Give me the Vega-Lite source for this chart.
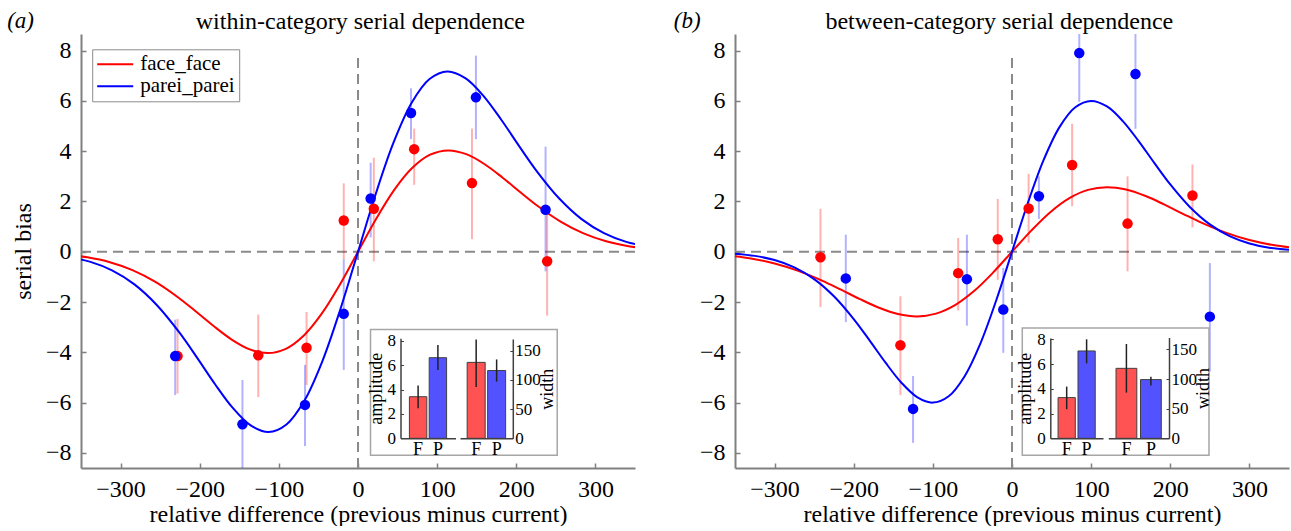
{
  "$schema": "https://vega.github.io/schema/vega-lite/v6.json",
  "padding": {"left": 7, "top": 9, "right": 0, "bottom": 0},
  "spacing": 37,
  "config": {
    "font": "Liberation Serif",
    "view": {"stroke": null},
    "text": {"font": "Liberation Serif"},
    "legend": {"labelFont": "Liberation Serif"},
    "axis": {"grid": false, "labelFont": "Liberation Serif", "titleFont": "Liberation Serif", "labelColor": "black", "titleColor": "black", "titleFontWeight": "normal", "labelFlush": false, "labelOverlap": false}
  },
  "resolve": {"scale": {"x": "independent", "y": "independent", "color": "independent"}, "legend": {"color": "independent"}},
  "datasets": {
    "pts_a": [
      {"cond": "face_face", "x": -228, "y": -4.15, "lo": -5.64, "hi": -2.67},
      {"cond": "face_face", "x": -126, "y": -4.12, "lo": -5.78, "hi": -2.5},
      {"cond": "face_face", "x": -65, "y": -3.82, "lo": -5.3, "hi": -2.4},
      {"cond": "face_face", "x": -18, "y": 1.24, "lo": -0.3, "hi": 2.72},
      {"cond": "face_face", "x": 20, "y": 1.71, "lo": -0.38, "hi": 3.74},
      {"cond": "face_face", "x": 71, "y": 4.08, "lo": 2.66, "hi": 4.9},
      {"cond": "face_face", "x": 144, "y": 2.73, "lo": 0.5, "hi": 4.9},
      {"cond": "face_face", "x": 239, "y": -0.38, "lo": -2.54, "hi": 1.7},
      {"cond": "parei_parei", "x": -231, "y": -4.15, "lo": -5.7, "hi": -2.7},
      {"cond": "parei_parei", "x": -146, "y": -6.86, "lo": -8.7, "hi": -5.1},
      {"cond": "parei_parei", "x": -67, "y": -6.09, "lo": -7.73, "hi": -4.5},
      {"cond": "parei_parei", "x": -18, "y": -2.47, "lo": -4.7, "hi": -0.3},
      {"cond": "parei_parei", "x": 16, "y": 2.12, "lo": 0.57, "hi": 3.54},
      {"cond": "parei_parei", "x": 67, "y": 5.52, "lo": 4.48, "hi": 6.5},
      {"cond": "parei_parei", "x": 149, "y": 6.14, "lo": 4.48, "hi": 7.8},
      {"cond": "parei_parei", "x": 237, "y": 1.67, "lo": -0.78, "hi": 4.18}
    ],
    "pts_b": [
      {"cond": "face_face", "x": -242, "y": -0.22, "lo": -2.2, "hi": 1.71},
      {"cond": "face_face", "x": -141, "y": -3.72, "lo": -5.7, "hi": -1.77},
      {"cond": "face_face", "x": -68, "y": -0.85, "lo": -2.33, "hi": 0.55},
      {"cond": "face_face", "x": -18, "y": 0.5, "lo": -1.12, "hi": 2.1},
      {"cond": "face_face", "x": 21, "y": 1.72, "lo": 0.36, "hi": 3.1},
      {"cond": "face_face", "x": 76, "y": 3.45, "lo": 1.81, "hi": 5.09},
      {"cond": "face_face", "x": 146, "y": 1.12, "lo": -0.78, "hi": 3.0},
      {"cond": "face_face", "x": 228, "y": 2.24, "lo": 0.97, "hi": 3.47},
      {"cond": "parei_parei", "x": -210, "y": -1.06, "lo": -2.8, "hi": 0.68},
      {"cond": "parei_parei", "x": -125, "y": -6.25, "lo": -7.6, "hi": -4.94},
      {"cond": "parei_parei", "x": -57, "y": -1.09, "lo": -2.94, "hi": 0.68},
      {"cond": "parei_parei", "x": -11, "y": -2.3, "lo": -4.02, "hi": -0.65},
      {"cond": "parei_parei", "x": 34, "y": 2.21, "lo": 1.3, "hi": 3.0},
      {"cond": "parei_parei", "x": 85, "y": 7.9, "lo": 5.96, "hi": 9.2},
      {"cond": "parei_parei", "x": 156, "y": 7.07, "lo": 4.89, "hi": 9.2},
      {"cond": "parei_parei", "x": 250, "y": -2.58, "lo": -4.76, "hi": -0.45}
    ],
    "fit_a": [
      {"cond": "face_face", "x": -370.5, "y": -0.1098}, {"cond": "face_face", "x": -342, "y": -0.2214}, {"cond": "face_face", "x": -313.5, "y": -0.4165}, {"cond": "face_face", "x": -285, "y": -0.7298}, {"cond": "face_face", "x": -256.5, "y": -1.1894}, {"cond": "face_face", "x": -228, "y": -1.7984}, {"cond": "face_face", "x": -205.2, "y": -2.3668}, {"cond": "face_face", "x": -182.4, "y": -2.9558}, {"cond": "face_face", "x": -159.6, "y": -3.4911}, {"cond": "face_face", "x": -136.8, "y": -3.881}, {"cond": "face_face", "x": -114, "y": -4.03}, {"cond": "face_face", "x": -91.2, "y": -3.8598}, {"cond": "face_face", "x": -68.4, "y": -3.3299}, {"cond": "face_face", "x": -45.6, "y": -2.4534}, {"cond": "face_face", "x": -22.8, "y": -1.3025}, {"cond": "face_face", "x": 0, "y": 0},
      {"cond": "face_face", "x": 22.8, "y": 1.3025}, {"cond": "face_face", "x": 45.6, "y": 2.4534}, {"cond": "face_face", "x": 68.4, "y": 3.3299}, {"cond": "face_face", "x": 91.2, "y": 3.8598}, {"cond": "face_face", "x": 114, "y": 4.03}, {"cond": "face_face", "x": 136.8, "y": 3.881}, {"cond": "face_face", "x": 159.6, "y": 3.4911}, {"cond": "face_face", "x": 182.4, "y": 2.9558}, {"cond": "face_face", "x": 205.2, "y": 2.3668}, {"cond": "face_face", "x": 228, "y": 1.7984}, {"cond": "face_face", "x": 256.5, "y": 1.1894}, {"cond": "face_face", "x": 285, "y": 0.7298}, {"cond": "face_face", "x": 313.5, "y": 0.4165}, {"cond": "face_face", "x": 342, "y": 0.2214}, {"cond": "face_face", "x": 370.5, "y": 0.1098},
      {"cond": "parei_parei", "x": -367.3, "y": -0.1954}, {"cond": "parei_parei", "x": -339, "y": -0.394}, {"cond": "parei_parei", "x": -310.8, "y": -0.741}, {"cond": "parei_parei", "x": -282.5, "y": -1.2985}, {"cond": "parei_parei", "x": -254.3, "y": -2.1161}, {"cond": "parei_parei", "x": -226, "y": -3.1997}, {"cond": "parei_parei", "x": -203.4, "y": -4.2109}, {"cond": "parei_parei", "x": -180.8, "y": -5.2588}, {"cond": "parei_parei", "x": -158.2, "y": -6.2113}, {"cond": "parei_parei", "x": -135.6, "y": -6.9049}, {"cond": "parei_parei", "x": -113, "y": -7.17}, {"cond": "parei_parei", "x": -90.4, "y": -6.8672}, {"cond": "parei_parei", "x": -67.8, "y": -5.9244}, {"cond": "parei_parei", "x": -45.2, "y": -4.365}, {"cond": "parei_parei", "x": -22.6, "y": -2.3174}, {"cond": "parei_parei", "x": 0, "y": 0},
      {"cond": "parei_parei", "x": 22.6, "y": 2.3174}, {"cond": "parei_parei", "x": 45.2, "y": 4.365}, {"cond": "parei_parei", "x": 67.8, "y": 5.9244}, {"cond": "parei_parei", "x": 90.4, "y": 6.8672}, {"cond": "parei_parei", "x": 113, "y": 7.17}, {"cond": "parei_parei", "x": 135.6, "y": 6.9049}, {"cond": "parei_parei", "x": 158.2, "y": 6.2113}, {"cond": "parei_parei", "x": 180.8, "y": 5.2588}, {"cond": "parei_parei", "x": 203.4, "y": 4.2109}, {"cond": "parei_parei", "x": 226, "y": 3.1997}, {"cond": "parei_parei", "x": 254.3, "y": 2.1161}, {"cond": "parei_parei", "x": 282.5, "y": 1.2985}, {"cond": "parei_parei", "x": 310.8, "y": 0.741}, {"cond": "parei_parei", "x": 339, "y": 0.394}, {"cond": "parei_parei", "x": 367.3, "y": 0.1954}
    ],
    "fit_b": [
      {"cond": "face_face", "x": -360, "y": -0.1412}, {"cond": "face_face", "x": -330, "y": -0.2656}, {"cond": "face_face", "x": -300, "y": -0.4654}, {"cond": "face_face", "x": -270, "y": -0.7585}, {"cond": "face_face", "x": -240, "y": -1.1469}, {"cond": "face_face", "x": -216, "y": -1.5094}, {"cond": "face_face", "x": -192, "y": -1.885}, {"cond": "face_face", "x": -168, "y": -2.2264}, {"cond": "face_face", "x": -144, "y": -2.475}, {"cond": "face_face", "x": -120, "y": -2.57}, {"cond": "face_face", "x": -96, "y": -2.4615}, {"cond": "face_face", "x": -72, "y": -2.1235}, {"cond": "face_face", "x": -48, "y": -1.5646}, {"cond": "face_face", "x": -24, "y": -0.8306}, {"cond": "face_face", "x": 0, "y": 0},
      {"cond": "face_face", "x": 24, "y": 0.8306}, {"cond": "face_face", "x": 48, "y": 1.5646}, {"cond": "face_face", "x": 72, "y": 2.1235}, {"cond": "face_face", "x": 96, "y": 2.4615}, {"cond": "face_face", "x": 120, "y": 2.57}, {"cond": "face_face", "x": 144, "y": 2.475}, {"cond": "face_face", "x": 168, "y": 2.2264}, {"cond": "face_face", "x": 192, "y": 1.885}, {"cond": "face_face", "x": 216, "y": 1.5094}, {"cond": "face_face", "x": 240, "y": 1.1469}, {"cond": "face_face", "x": 270, "y": 0.7585}, {"cond": "face_face", "x": 300, "y": 0.4654}, {"cond": "face_face", "x": 330, "y": 0.2656}, {"cond": "face_face", "x": 360, "y": 0.1412},
      {"cond": "parei_parei", "x": -350, "y": -0.0757}, {"cond": "parei_parei", "x": -325, "y": -0.1635}, {"cond": "parei_parei", "x": -300, "y": -0.3297}, {"cond": "parei_parei", "x": -275, "y": -0.6201}, {"cond": "parei_parei", "x": -250, "y": -1.0866}, {"cond": "parei_parei", "x": -225, "y": -1.7708}, {"cond": "parei_parei", "x": -200, "y": -2.6776}, {"cond": "parei_parei", "x": -180, "y": -3.5238}, {"cond": "parei_parei", "x": -160, "y": -4.4007}, {"cond": "parei_parei", "x": -140, "y": -5.1977}, {"cond": "parei_parei", "x": -120, "y": -5.7781}, {"cond": "parei_parei", "x": -100, "y": -6.0}, {"cond": "parei_parei", "x": -80, "y": -5.7466}, {"cond": "parei_parei", "x": -60, "y": -4.9577}, {"cond": "parei_parei", "x": -40, "y": -3.6527}, {"cond": "parei_parei", "x": -20, "y": -1.9393}, {"cond": "parei_parei", "x": 0, "y": 0},
      {"cond": "parei_parei", "x": 20, "y": 1.9393}, {"cond": "parei_parei", "x": 40, "y": 3.6527}, {"cond": "parei_parei", "x": 60, "y": 4.9577}, {"cond": "parei_parei", "x": 80, "y": 5.7466}, {"cond": "parei_parei", "x": 100, "y": 6.0}, {"cond": "parei_parei", "x": 120, "y": 5.7781}, {"cond": "parei_parei", "x": 140, "y": 5.1977}, {"cond": "parei_parei", "x": 160, "y": 4.4007}, {"cond": "parei_parei", "x": 180, "y": 3.5238}, {"cond": "parei_parei", "x": 200, "y": 2.6776}, {"cond": "parei_parei", "x": 225, "y": 1.7708}, {"cond": "parei_parei", "x": 250, "y": 1.0866}, {"cond": "parei_parei", "x": 275, "y": 0.6201}, {"cond": "parei_parei", "x": 300, "y": 0.3297}, {"cond": "parei_parei", "x": 325, "y": 0.1635}, {"cond": "parei_parei", "x": 350, "y": 0.0757}
    ],
    "inset_a": [
      {"measure": "amplitude", "cat": "F", "value": 3.41, "lo": 2.46, "hi": 4.32},
      {"measure": "amplitude", "cat": "P", "value": 6.61, "lo": 5.6, "hi": 7.65},
      {"measure": "width", "cat": "F", "value": 130, "lo": 88, "hi": 169},
      {"measure": "width", "cat": "P", "value": 116, "lo": 97, "hi": 135}
    ],
    "inset_b": [
      {"measure": "amplitude", "cat": "F", "value": 3.29, "lo": 2.35, "hi": 4.18},
      {"measure": "amplitude", "cat": "P", "value": 7.06, "lo": 6.06, "hi": 8.0},
      {"measure": "width", "cat": "F", "value": 118, "lo": 77, "hi": 159},
      {"measure": "width", "cat": "P", "value": 99, "lo": 89, "hi": 104}
    ]
  },
  "hconcat": [
    {
      "width": 554, "height": 434,
      "resolve": {"scale": {"x": "independent", "y": "independent", "color": "independent"}, "legend": {"color": "independent"}},
      "layer": [
        {
          "layer": [
            {"data": {"values": [{}]}, "mark": {"type": "rule", "color": "#8a8a8a", "strokeWidth": 2, "strokeDash": [10, 6]},
             "encoding": {"y": {"datum": 0, "type": "quantitative", "scale": {"domain": [-8.6, 8.66], "nice": false, "zero": false}}}},
            {"data": {"values": [{}]}, "mark": {"type": "rule", "color": "#8a8a8a", "strokeWidth": 2, "strokeDash": [10, 6]},
             "encoding": {"x": {"datum": 0, "type": "quantitative", "scale": {"domain": [-350, 350], "nice": false, "zero": false}}, "y": {"datum": -8.6, "type": "quantitative"}, "y2": {"datum": 7.9}}},
            {"data": {"name": "pts_a"}, "mark": {"type": "rule", "strokeWidth": 2, "opacity": 0.3, "clip": true},
             "encoding": {
               "x": {"field": "x", "type": "quantitative", "scale": {"domain": [-350, 350], "nice": false, "zero": false},
                     "axis": {"orient": "bottom", "values": [-300, -200, -100, 0, 100, 200, 300], "title": "relative difference (previous minus current)", "titleFont": "Liberation Serif", "titleFontSize": 24, "titlePadding": 1, "labelFont": "Liberation Serif", "labelFontSize": 24, "labelPadding": 14, "tickSize": -5, "domainColor": "#808080", "domainWidth": 2, "tickColor": "#808080", "tickWidth": 1.5}},
               "y": {"field": "lo", "type": "quantitative", "scale": {"domain": [-8.6, 8.66], "nice": false, "zero": false},
                     "axis": {"orient": "left", "values": [-8, -6, -4, -2, 0, 2, 4, 6, 8], "title": "serial bias", "titleFont": "Liberation Serif", "titleFontSize": 24, "titlePadding": 10, "labelFont": "Liberation Serif", "labelFontSize": 24, "labelPadding": 15, "tickSize": -5, "domainColor": "#808080", "domainWidth": 2, "tickColor": "#808080", "tickWidth": 1.5}},
               "y2": {"field": "hi"},
               "stroke": {"field": "cond", "type": "nominal", "scale": {"domain": ["face_face", "parei_parei"], "range": ["#ff0000", "#0000ff"]}, "legend": null}
             }},
            {"data": {"name": "fit_a"}, "mark": {"type": "line", "strokeWidth": 2, "interpolate": "catmull-rom", "clip": true},
             "encoding": {
               "x": {"field": "x", "type": "quantitative"},
               "y": {"field": "y", "type": "quantitative"},
               "color": {"field": "cond", "type": "nominal", "scale": {"domain": ["face_face", "parei_parei"], "range": ["#ff0000", "#0000ff"]},
                         "legend": {"orient": "none", "legendX": 11.2, "legendY": 15.3, "title": null, "symbolType": "stroke", "symbolSize": 1296, "symbolStrokeWidth": 2, "labelFont": "Liberation Serif", "labelFontSize": 21, "labelColor": "black", "strokeColor": "#8c8c8c", "fillColor": "white", "padding": 4, "labelOffset": 6, "clipHeight": 22, "rowPadding": 0}}
             }},
            {"data": {"name": "pts_a"}, "mark": {"type": "circle", "size": 110, "opacity": 1},
             "encoding": {
               "x": {"field": "x", "type": "quantitative"},
               "y": {"field": "y", "type": "quantitative"},
               "fill": {"field": "cond", "type": "nominal", "scale": {"domain": ["face_face", "parei_parei"], "range": ["#ff0000", "#0000ff"]}, "legend": null}
             }},
            {"data": {"values": [{}]}, "mark": {"type": "rect", "fill": "white", "stroke": "#a6a6a6", "strokeWidth": 1.5},
             "encoding": {"x": {"datum": 15.8, "type": "quantitative"}, "x2": {"datum": 251.7}, "y": {"datum": -8.09, "type": "quantitative"}, "y2": {"datum": -3.09}}},
            {"data": {"values": [{"label": "(a)"}]}, "mark": {"type": "text", "font": "Liberation Serif", "fontSize": 23, "fontStyle": "italic", "align": "center", "baseline": "alphabetic"},
             "encoding": {"x": {"datum": -426.4, "type": "quantitative"}, "y": {"datum": 8.915, "type": "quantitative"}, "text": {"field": "label"}}},
            {"data": {"values": [{"label": "within-category serial dependence"}]}, "mark": {"type": "text", "font": "Liberation Serif", "fontSize": 24, "align": "center", "baseline": "alphabetic"},
             "encoding": {"x": {"datum": 3, "type": "quantitative"}, "y": {"datum": 8.86, "type": "quantitative"}, "text": {"field": "label"}}}
          ]
        },
        {
          "data": {"name": "inset_a"},
          "transform": [{"filter": "datum.measure === 'amplitude'"}],
          "layer": [
            {"mark": {"type": "bar", "stroke": "#404040", "strokeWidth": 1},
             "encoding": {
               "x": {"field": "cat", "type": "nominal", "scale": {"domain": ["F", "P"], "range": [319.5, 374.5], "paddingInner": 0.12, "paddingOuter": 0.45},
                     "axis": {"orient": "bottom", "offset": -29.7, "title": null, "ticks": false, "labelAngle": 0, "labelFont": "Liberation Serif", "labelFontSize": 18, "labelPadding": 2, "domainColor": "#404040", "domainWidth": 1.5, "zindex": 2}},
               "y": {"field": "value", "type": "quantitative", "scale": {"domain": [0, 8.2], "range": [404.3, 304.3], "nice": false},
                     "axis": {"orient": "left", "offset": -319.5, "values": [0, 2, 4, 6, 8], "title": "amplitude", "titleFont": "Liberation Serif", "titleFontSize": 18, "titlePadding": 2, "labelFont": "Liberation Serif", "labelFontSize": 17, "labelPadding": 8, "tickSize": -3, "domainColor": "#404040", "domainWidth": 1.5, "tickColor": "#404040", "zindex": 2}},
               "color": {"field": "cat", "type": "nominal", "scale": {"domain": ["F", "P"], "range": ["#ff5252", "#5252ff"]}, "legend": null}
             }},
            {"mark": {"type": "rule", "color": "#222222", "strokeWidth": 1.5},
             "encoding": {"x": {"field": "cat", "type": "nominal"}, "y": {"field": "lo", "type": "quantitative"}, "y2": {"field": "hi"}}}
          ]
        },
        {
          "data": {"name": "inset_a"},
          "transform": [{"filter": "datum.measure === 'width'"}],
          "layer": [
            {"mark": {"type": "bar", "stroke": "#404040", "strokeWidth": 1},
             "encoding": {
               "x": {"field": "cat", "type": "nominal", "scale": {"domain": ["F", "P"], "range": [379, 431.8], "paddingInner": 0.12, "paddingOuter": 0.35},
                     "axis": {"orient": "bottom", "offset": -29.7, "title": null, "ticks": false, "labelAngle": 0, "labelFont": "Liberation Serif", "labelFontSize": 18, "labelPadding": 2, "domainColor": "#404040", "domainWidth": 1.5, "zindex": 2}},
               "y": {"field": "value", "type": "quantitative", "scale": {"domain": [0, 170], "range": [404.3, 305.0], "nice": false},
                     "axis": {"orient": "right", "offset": -122.2, "values": [0, 50, 100, 150], "title": "width", "titleAngle": 270, "titleFont": "Liberation Serif", "titleFontSize": 18, "titlePadding": 16, "labelFont": "Liberation Serif", "labelFontSize": 17, "labelPadding": 5, "tickSize": -3, "domainColor": "#404040", "domainWidth": 1.5, "tickColor": "#404040", "zindex": 2}},
               "color": {"field": "cat", "type": "nominal", "scale": {"domain": ["F", "P"], "range": ["#ff5252", "#5252ff"]}, "legend": null}
             }},
            {"mark": {"type": "rule", "color": "#222222", "strokeWidth": 1.5},
             "encoding": {"x": {"field": "cat", "type": "nominal"}, "y": {"field": "lo", "type": "quantitative"}, "y2": {"field": "hi"}}}
          ]
        }
      ]
    },
    {
      "width": 554, "height": 434,
      "resolve": {"scale": {"x": "independent", "y": "independent", "color": "independent"}, "legend": {"color": "independent"}},
      "layer": [
        {
          "layer": [
            {"data": {"values": [{}]}, "mark": {"type": "rule", "color": "#8a8a8a", "strokeWidth": 2, "strokeDash": [10, 6]},
             "encoding": {"y": {"datum": 0, "type": "quantitative", "scale": {"domain": [-8.6, 8.66], "nice": false, "zero": false}}}},
            {"data": {"values": [{}]}, "mark": {"type": "rule", "color": "#8a8a8a", "strokeWidth": 2, "strokeDash": [10, 6]},
             "encoding": {"x": {"datum": 0, "type": "quantitative", "scale": {"domain": [-350, 350], "nice": false, "zero": false}}, "y": {"datum": -8.6, "type": "quantitative"}, "y2": {"datum": 7.9}}},
            {"data": {"name": "pts_b"}, "mark": {"type": "rule", "strokeWidth": 2, "opacity": 0.3, "clip": true},
             "encoding": {
               "x": {"field": "x", "type": "quantitative", "scale": {"domain": [-350, 350], "nice": false, "zero": false},
                     "axis": {"orient": "bottom", "values": [-300, -200, -100, 0, 100, 200, 300], "title": "relative difference (previous minus current)", "titleFont": "Liberation Serif", "titleFontSize": 24, "titlePadding": 1, "labelFont": "Liberation Serif", "labelFontSize": 24, "labelPadding": 14, "tickSize": -5, "domainColor": "#808080", "domainWidth": 2, "tickColor": "#808080", "tickWidth": 1.5}},
               "y": {"field": "lo", "type": "quantitative", "scale": {"domain": [-8.6, 8.66], "nice": false, "zero": false},
                     "axis": {"orient": "left", "values": [-8, -6, -4, -2, 0, 2, 4, 6, 8], "title": null, "labelFont": "Liberation Serif", "labelFontSize": 24, "labelPadding": 15, "tickSize": -5, "domainColor": "#808080", "domainWidth": 2, "tickColor": "#808080", "tickWidth": 1.5}},
               "y2": {"field": "hi"},
               "stroke": {"field": "cond", "type": "nominal", "scale": {"domain": ["face_face", "parei_parei"], "range": ["#ff0000", "#0000ff"]}, "legend": null}
             }},
            {"data": {"name": "fit_b"}, "mark": {"type": "line", "strokeWidth": 2, "interpolate": "catmull-rom", "clip": true},
             "encoding": {
               "x": {"field": "x", "type": "quantitative"},
               "y": {"field": "y", "type": "quantitative"},
               "color": {"field": "cond", "type": "nominal", "scale": {"domain": ["face_face", "parei_parei"], "range": ["#ff0000", "#0000ff"]}, "legend": null}
             }},
            {"data": {"name": "pts_b"}, "mark": {"type": "circle", "size": 110, "opacity": 1},
             "encoding": {
               "x": {"field": "x", "type": "quantitative"},
               "y": {"field": "y", "type": "quantitative"},
               "fill": {"field": "cond", "type": "nominal", "scale": {"domain": ["face_face", "parei_parei"], "range": ["#ff0000", "#0000ff"]}, "legend": null}
             }},
            {"data": {"values": [{}]}, "mark": {"type": "rect", "fill": "white", "stroke": "#a6a6a6", "strokeWidth": 1.5},
             "encoding": {"x": {"datum": 13.0, "type": "quantitative"}, "x2": {"datum": 248.9}, "y": {"datum": -8.09, "type": "quantitative"}, "y2": {"datum": -3.03}}},
            {"data": {"values": [{"label": "(b)"}]}, "mark": {"type": "text", "font": "Liberation Serif", "fontSize": 23, "fontStyle": "italic", "align": "center", "baseline": "alphabetic"},
             "encoding": {"x": {"datum": -410.3, "type": "quantitative"}, "y": {"datum": 8.915, "type": "quantitative"}, "text": {"field": "label"}}},
            {"data": {"values": [{"label": "between-category serial dependence"}]}, "mark": {"type": "text", "font": "Liberation Serif", "fontSize": 24, "align": "center", "baseline": "alphabetic"},
             "encoding": {"x": {"datum": -16, "type": "quantitative"}, "y": {"datum": 8.86, "type": "quantitative"}, "text": {"field": "label"}}}
          ]
        },
        {
          "data": {"name": "inset_b"},
          "transform": [{"filter": "datum.measure === 'amplitude'"}],
          "layer": [
            {"mark": {"type": "bar", "stroke": "#404040", "strokeWidth": 1},
             "encoding": {
               "x": {"field": "cat", "type": "nominal", "scale": {"domain": ["F", "P"], "range": [315.3, 368], "paddingInner": 0.135, "paddingOuter": 0.39},
                     "axis": {"orient": "bottom", "offset": -29.7, "title": null, "ticks": false, "labelAngle": 0, "labelFont": "Liberation Serif", "labelFontSize": 18, "labelPadding": 2, "domainColor": "#404040", "domainWidth": 1.5, "zindex": 2}},
               "y": {"field": "value", "type": "quantitative", "scale": {"domain": [0, 8.1], "range": [404.3, 304.1], "nice": false},
                     "axis": {"orient": "left", "offset": -315.3, "values": [0, 2, 4, 6, 8], "title": "amplitude", "titleFont": "Liberation Serif", "titleFontSize": 18, "titlePadding": 2, "labelFont": "Liberation Serif", "labelFontSize": 17, "labelPadding": 8, "tickSize": -3, "domainColor": "#404040", "domainWidth": 1.5, "tickColor": "#404040", "zindex": 2}},
               "color": {"field": "cat", "type": "nominal", "scale": {"domain": ["F", "P"], "range": ["#ff5252", "#5252ff"]}, "legend": null}
             }},
            {"mark": {"type": "rule", "color": "#222222", "strokeWidth": 1.5},
             "encoding": {"x": {"field": "cat", "type": "nominal"}, "y": {"field": "lo", "type": "quantitative"}, "y2": {"field": "hi"}}}
          ]
        },
        {
          "data": {"name": "inset_b"},
          "transform": [{"filter": "datum.measure === 'width'"}],
          "layer": [
            {"mark": {"type": "bar", "stroke": "#404040", "strokeWidth": 1},
             "encoding": {
               "x": {"field": "cat", "type": "nominal", "scale": {"domain": ["F", "P"], "range": [373.3, 434], "paddingInner": 0.15, "paddingOuter": 0.315},
                     "axis": {"orient": "bottom", "offset": -29.7, "title": null, "ticks": false, "labelAngle": 0, "labelFont": "Liberation Serif", "labelFontSize": 18, "labelPadding": 2, "domainColor": "#404040", "domainWidth": 1.5, "zindex": 2}},
               "y": {"field": "value", "type": "quantitative", "scale": {"domain": [0, 170], "range": [404.3, 303.5], "nice": false},
                     "axis": {"orient": "right", "offset": -120, "values": [0, 50, 100, 150], "title": "width", "titleAngle": 270, "titleFont": "Liberation Serif", "titleFontSize": 18, "titlePadding": 16, "labelFont": "Liberation Serif", "labelFontSize": 17, "labelPadding": 5, "tickSize": -3, "domainColor": "#404040", "domainWidth": 1.5, "tickColor": "#404040", "zindex": 2}},
               "color": {"field": "cat", "type": "nominal", "scale": {"domain": ["F", "P"], "range": ["#ff5252", "#5252ff"]}, "legend": null}
             }},
            {"mark": {"type": "rule", "color": "#222222", "strokeWidth": 1.5},
             "encoding": {"x": {"field": "cat", "type": "nominal"}, "y": {"field": "lo", "type": "quantitative"}, "y2": {"field": "hi"}}}
          ]
        }
      ]
    }
  ]
}
